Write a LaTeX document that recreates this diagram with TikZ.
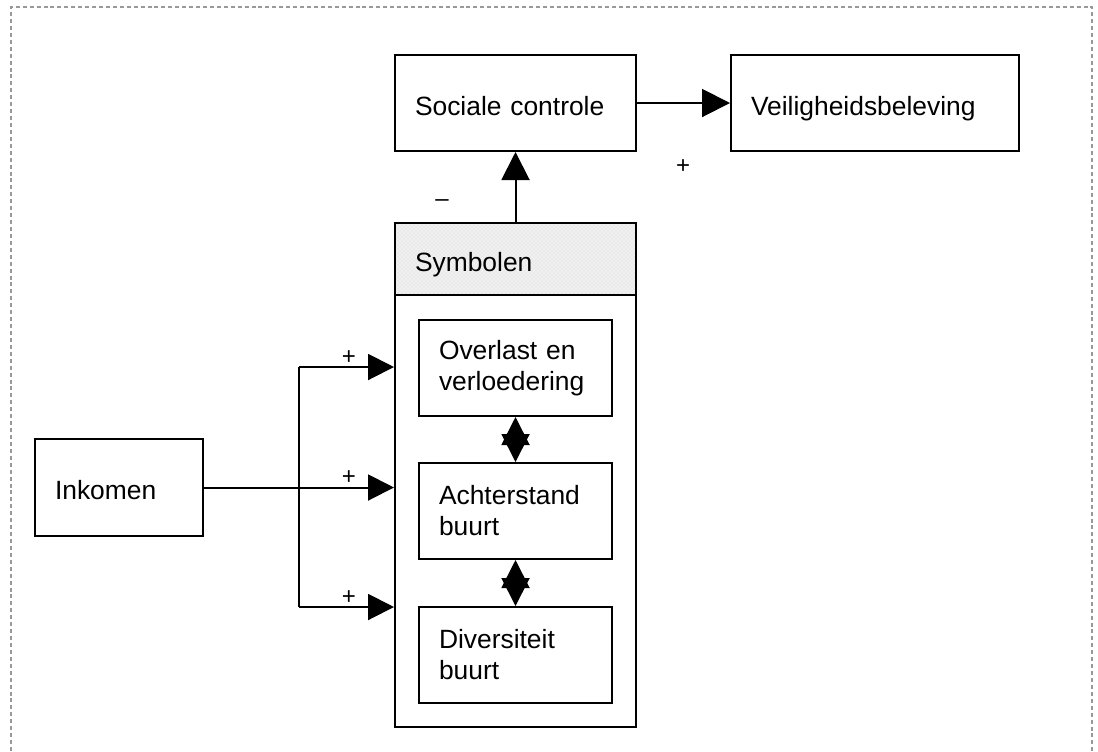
\documentclass[tikz,border=0pt]{standalone}
\usepackage{fontspec}
\setmainfont{Liberation Sans}
\usetikzlibrary{arrows.meta,patterns}
\begin{document}
\begin{tikzpicture}[x=0.75pt,y=-0.75pt,
  box/.style={draw=black, line width=1.5pt, rectangle, inner xsep=15pt, inner ysep=0pt,
    align=left, font=\fontsize{19.8}{23.2}\selectfont},
  oneline/.style={text height=18.5pt, text depth=0pt},
  conn/.style={line width=1.5pt, draw=black},
  bigarr/.style={conn, -{Triangle[length=21pt,width=21pt]}},
  smallarr/.style={conn, -{Triangle[length=19.5pt,width=19.5pt]}},
  dblarr/.style={conn, {Triangle[length=21pt,width=21pt]}-{Triangle[length=21pt,width=21pt]}},
  sign/.style={font=\fontsize{18}{20}\selectfont, inner sep=0pt},
  frame/.style={draw=black!40, line width=1.5pt, dash pattern=on 3pt off 2.2pt}
]
\useasboundingbox (0,0) rectangle (1098,751);
\draw[frame] (11,751) -- (11,7) -- (1092,7) -- (1092,751);

% top row
\node[box, oneline, text width=150.75pt, minimum height=72pt] (soc) at (515.5,103) {Sociale controle};
\node[box, oneline, text width=186pt, minimum height=72pt] (veil) at (875,103) {Veiligheidsbeleving};

% Symbolen container
\node[draw=black, line width=1.5pt, rectangle, minimum width=180.75pt, minimum height=378pt, inner sep=0pt] (symbox) at (515.5,475) {};
\node[box, oneline, text width=150.75pt, minimum height=54pt,
  preaction={fill=black!6}, pattern=crosshatch dots, pattern color=black!15] (symhead) at (515.5,259) {Symbolen};

\node[box, text width=114.75pt, minimum height=72pt] (ov) at (515.5,368) {Overlast en\\verloedering};
\node[box, text width=114.75pt, minimum height=72pt] (ach) at (515.5,511) {Achterstand\\buurt};
\node[box, text width=114.75pt, minimum height=72pt] (div) at (515.5,655) {Diversiteit\\buurt};

% Inkomen
\node[box, oneline, text width=96pt, minimum height=72.75pt] (ink) at (119,487.5) {Inkomen};

% connectors
\draw[bigarr] (soc.east) -- (veil.west);
\draw[bigarr] (symhead.north) -- (soc.south);
\draw[dblarr] (ov.south) -- (ach.north);
\draw[dblarr] (ach.south) -- (div.north);

\coordinate (bt) at (299,367);
\coordinate (bb) at (299,607);
\draw[conn] (bt) -- (bb);
\draw[smallarr] (ink.east) -- (symbox.west |- ink.east);
\draw[smallarr] (bt) -- (symbox.west |- bt);
\draw[smallarr] (bb) -- (symbox.west |- bb);

% signs
\node[sign] (p1) at (683,167) {+};
\node[sign] (m1) at (442,203) {–};
\node[sign] (p2) at (349,358) {+};
\node[sign] (p3) at (349,478) {+};
\node[sign] (p4) at (349,598) {+};
\end{tikzpicture}
\end{document}
